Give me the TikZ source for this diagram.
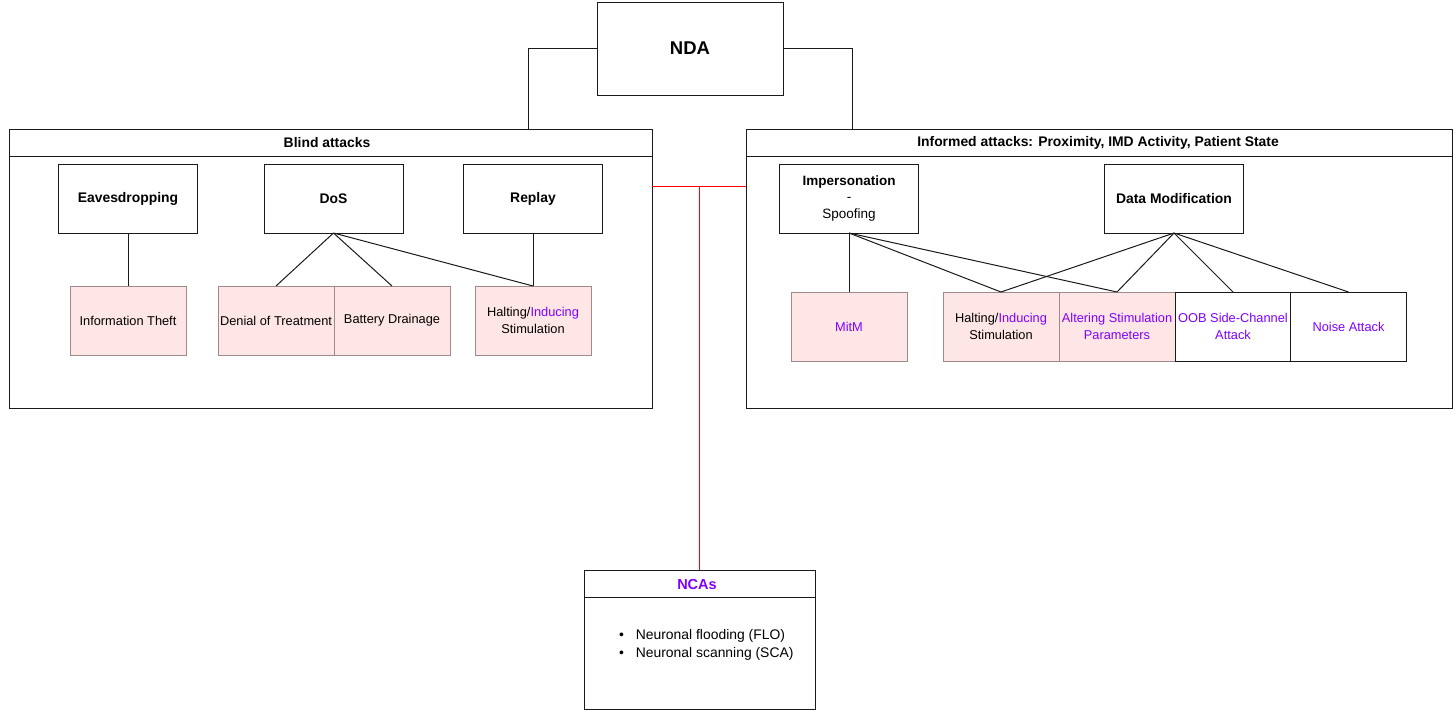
\documentclass[tikz,border=0pt]{standalone}
\usepackage{fontspec}
\setmainfont{Liberation Sans}
\definecolor{pinkfill}{HTML}{FFE6E6}
\definecolor{pinkdraw}{HTML}{9E8A8A}
\definecolor{violet}{HTML}{7F00FF}
\definecolor{redline}{HTML}{FF0000}
\definecolor{edge}{HTML}{1A1A1A}
\tikzset{
  base/.style={inner sep=0pt, outer sep=0pt, line width=1pt, font=\fontsize{12.8}{17}\selectfont, align=center},
  topbox/.style={base, draw=edge, fill=white, minimum width=139pt, minimum height=69pt, font=\fontsize{13.9}{17}\selectfont\bfseries},
  leaf/.style={base, draw=pinkdraw, fill=pinkfill, minimum width=116pt, minimum height=69pt},
  leafw/.style={base, draw=edge, fill=white, minimum width=116pt, minimum height=69pt},
  container/.style={base, draw=edge, fill=none},
  title/.style={font=\fontsize{13.9}{16}\selectfont\bfseries, inner sep=0pt},
  link/.style={draw=edge, line width=1pt},
  rlink/.style={draw=redline, line width=1pt},
}
\begin{document}
\begin{tikzpicture}[x=1pt,y=-1pt]
\useasboundingbox[fill=white] (0,0) rectangle (1453,710);

% NDA
\node[base, draw=edge, minimum width=186pt, minimum height=93pt, font=\fontsize{18.5}{22}\selectfont\bfseries] (nda) at (690,48.5) {NDA};

% containers
\node[container, minimum width=643pt, minimum height=279pt] (blind) at (330.5,268.5) {};
\draw[link] (blind.north west |- 0,156) -- (blind.north east |- 0,156);
\node[title] (blindt) at (327,143) {Blind attacks};

\node[container, minimum width=706pt, minimum height=279pt] (inf) at (1099,268.5) {};
\draw[link] (inf.north west |- 0,156) -- (inf.north east |- 0,156);
\node[title] (inft) at (1098,143) {Informed attacks: Proximity, IMD Activity, Patient State};

\node[container, minimum width=231pt, minimum height=139pt] (nca) at (699.5,639.5) {};
\draw[link] (nca.north west |- 0,597) -- (nca.north east |- 0,597);
\node[title, text=violet, font=\fontsize{14.5}{16}\selectfont\bfseries] (ncat) at (697,584) {NCAs};
\node[base, align=left, anchor=west, font=\fontsize{13.9}{18}\selectfont] (ncal) at (619,645)
  {\textbullet\hspace{12pt}Neuronal flooding (FLO)\\\textbullet\hspace{12pt}Neuronal scanning (SCA)};

% NDA connectors
\draw[link] (nda.west) -| ([xshift=519pt]blind.north west);
\draw[link] (nda.east) -| ([xshift=106pt]inf.north west);

% red connectors
\coordinate (rj) at (699.5,186);
\draw[rlink] ([yshift=-57pt]blind.north east) -- ([yshift=-57pt]inf.north west);
\draw[rlink] (rj) -- (nca.north);

% Blind attacks content
\node[topbox] (eav) at (128,198.5) {Eavesdropping};
\node[topbox] (dos) at (333.5,198.5) {DoS};
\node[topbox] (rep) at (533,198.5) {Replay};

\node[leaf] (it) at (128,320.5) {Information Theft};
\node[leaf] (dt) at (276,320.5) {Denial of Treatment};
\node[leaf] (bd) at (392,320.5) {Battery Drainage};
\node[leaf] (hb) at (533,320.5) {Halting/\textcolor{violet}{Inducing}\\Stimulation};

\draw[link] (eav.south) -- (it.north);
\draw[link] (dos.south) -- (dt.north);
\draw[link] (dos.south) -- (bd.north);
\draw[link] (dos.south) -- (hb.north);
\draw[link] (rep.south) -- (hb.north);

% Informed attacks content
\node[topbox, font=\fontsize{13.5}{16.5}\selectfont] (imp) at (849,198.5) {\textbf{Impersonation}\\-\\Spoofing};
\node[topbox] (dm) at (1174,198.5) {Data Modification};

\node[leaf, text=violet] (mitm) at (849,326.5) {MitM};
\node[leaf] (hi) at (1001,326.5) {Halting/\textcolor{violet}{Inducing}\\Stimulation};
\node[leaf, text=violet] (alt) at (1117,326.5) {Altering Stimulation\\Parameters};
\node[leafw, text=violet] (oob) at (1233,326.5) {OOB Side-Channel\\Attack};
\node[leafw, text=violet] (noise) at (1348.5,326.5) {Noise Attack};

\draw[link] (imp.south) -- (mitm.north);
\draw[link] (imp.south) -- (hi.north);
\draw[link] (imp.south) -- (alt.north);
\draw[link] (dm.south) -- (hi.north);
\draw[link] (dm.south) -- (alt.north);
\draw[link] (dm.south) -- (oob.north);
\draw[link] (dm.south) -- (noise.north);
\end{tikzpicture}
\end{document}
